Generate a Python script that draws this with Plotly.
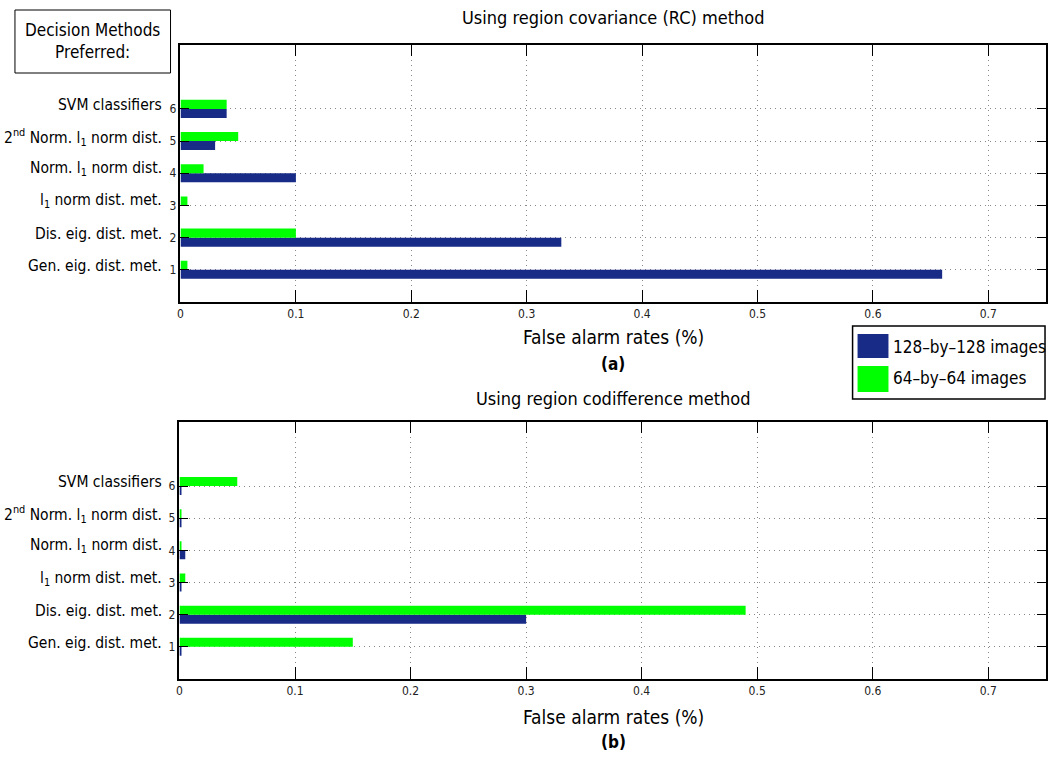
import plotly.graph_objects as go

# ---------------- data ----------------
positions = [1, 2, 3, 4, 5, 6]
categories = [
    "Gen. eig. dist. met.",
    "Dis. eig. dist. met.",
    "l<sub>1</sub> norm dist. met.",
    "Norm. l<sub>1</sub> norm dist.",
    "2<sup>nd</sup> Norm. l<sub>1</sub> norm dist.",
    "SVM classifiers",
]
tick_labels = ["1", "2", "3", "4", "5", "6"]
x_step = 0.1

rc_128 = [0.66, 0.33, 0.0, 0.10, 0.03, 0.04]
rc_64 = [0.006, 0.10, 0.006, 0.02, 0.05, 0.04]
cd_128 = [0.001, 0.30, 0.001, 0.005, 0.001, 0.001]
cd_64 = [0.15, 0.49, 0.005, 0.001, 0.001, 0.05]

series_names = ["128\u2013by\u2013128 images", "64\u2013by\u201364 images"]
BLUE = "#172b87"
GREEN = "#00ff00"
FONT = "DejaVu Sans Condensed, Liberation Sans Narrow, Liberation Sans, sans-serif"

W, H = 1053, 761


def px(x):
    return x / W


def py(y):
    return 1 - y / H


fig = go.Figure()
for vals, name, col, xa, ya in [
    (rc_128, series_names[0], BLUE, "x", "y"),
    (rc_64, series_names[1], GREEN, "x", "y"),
    (cd_128, series_names[0], BLUE, "x2", "y2"),
    (cd_64, series_names[1], GREEN, "x2", "y2"),
]:
    fig.add_trace(go.Bar(
        x=vals, y=positions, orientation="h", name=name,
        marker=dict(color=col, line=dict(width=0)),
        xaxis=xa, yaxis=ya, showlegend=False,
    ))

xaxis_common = dict(
    range=[0, 0.75], tickmode="linear", tick0=0, dtick=x_step,
    ticks="inside", ticklen=12, tickcolor="black", tickwidth=1,
    showline=True, linecolor="black", linewidth=1.5, mirror="ticks",
    showgrid=True, gridcolor="#888888", griddash="1px,4px", gridwidth=1,
    zeroline=False, tickfont=dict(size=12, color="#222", family=FONT),
    fixedrange=True,
)
yaxis_common = dict(
    range=[0, 8], tickvals=positions, ticktext=tick_labels,
    ticks="inside", ticklen=9, tickcolor="black", tickwidth=1,
    showline=True, linecolor="black", linewidth=1.5, mirror="ticks",
    showgrid=True, gridcolor="#888888", griddash="1px,4px", gridwidth=1,
    zeroline=False, tickfont=dict(size=12, color="#222", family=FONT),
    fixedrange=True,
)

fig.update_layout(
    width=W, height=H,
    margin=dict(l=0, r=0, t=0, b=0),
    paper_bgcolor="white", plot_bgcolor="white",
    barmode="group", bargap=0.44, bargroupgap=0.0,
    font=dict(family=FONT, color="black"),
    xaxis=dict(domain=[px(178), px(1046)], anchor="y", **xaxis_common),
    yaxis=dict(domain=[py(302), py(44.5)], anchor="x", **yaxis_common),
    xaxis2=dict(domain=[px(177), px(1046)], anchor="y2", **xaxis_common),
    yaxis2=dict(domain=[py(679), py(421.7)], anchor="x2", **yaxis_common),
)

ann = []
# category labels
for yref in ["y", "y2"]:
    for p, c in zip(positions, categories):
        ann.append(dict(x=px(161), xref="paper", y=p, yref=yref, text=c,
                        xanchor="right", yanchor="middle", showarrow=False,
                        yshift=4, font=dict(size=15.5, family=FONT)))

# titles and axis titles
cx = px(612)
ann += [
    dict(x=cx, y=py(18), text="Using region covariance (RC) method", font=dict(size=18)),
    dict(x=cx, y=py(337), text="False alarm rates (%)", font=dict(size=19)),
    dict(x=cx, y=py(364), text="<b>(a)</b>", font=dict(size=17)),
    dict(x=cx, y=py(398), text="Using region codifference method", font=dict(size=18)),
    dict(x=cx, y=py(717), text="False alarm rates (%)", font=dict(size=19)),
    dict(x=cx, y=py(742), text="<b>(b)</b>", font=dict(size=17)),
    dict(x=px(90), y=py(41), text="Decision Methods<br>Preferred:", font=dict(size=17)),
    dict(x=px(891), y=py(347), text=series_names[0], xanchor="left", font=dict(size=17)),
    dict(x=px(891), y=py(378), text=series_names[1], xanchor="left", font=dict(size=17)),
]
for a in ann[12:]:
    a.setdefault("xref", "paper")
    a.setdefault("yref", "paper")
    a.setdefault("showarrow", False)
    a.setdefault("xanchor", "center")
    a.setdefault("yanchor", "middle")
    a["font"].setdefault("family", FONT)
fig.update_layout(annotations=ann)

shapes = [
    dict(type="rect", xref="paper", yref="paper", x0=px(12), x1=px(168), y0=py(73), y1=py(10),
         line=dict(color="black", width=1), fillcolor="white", layer="below"),
    dict(type="rect", xref="paper", yref="paper", x0=px(852), x1=px(1045), y0=py(399), y1=py(326),
         line=dict(color="black", width=1.5), fillcolor="white", layer="above"),
    dict(type="rect", xref="paper", yref="paper", x0=px(857), x1=px(888), y0=py(358), y1=py(334),
         line=dict(width=0), fillcolor=BLUE, layer="above"),
    dict(type="rect", xref="paper", yref="paper", x0=px(857), x1=px(888), y0=py(392), y1=py(366),
         line=dict(width=0), fillcolor=GREEN, layer="above"),
]
fig.update_layout(shapes=shapes)

fig.write_html(
    "out.html",
    config={"displayModeBar": False},
    post_script="document.body.style.margin='0';document.body.style.padding='0';",
)
